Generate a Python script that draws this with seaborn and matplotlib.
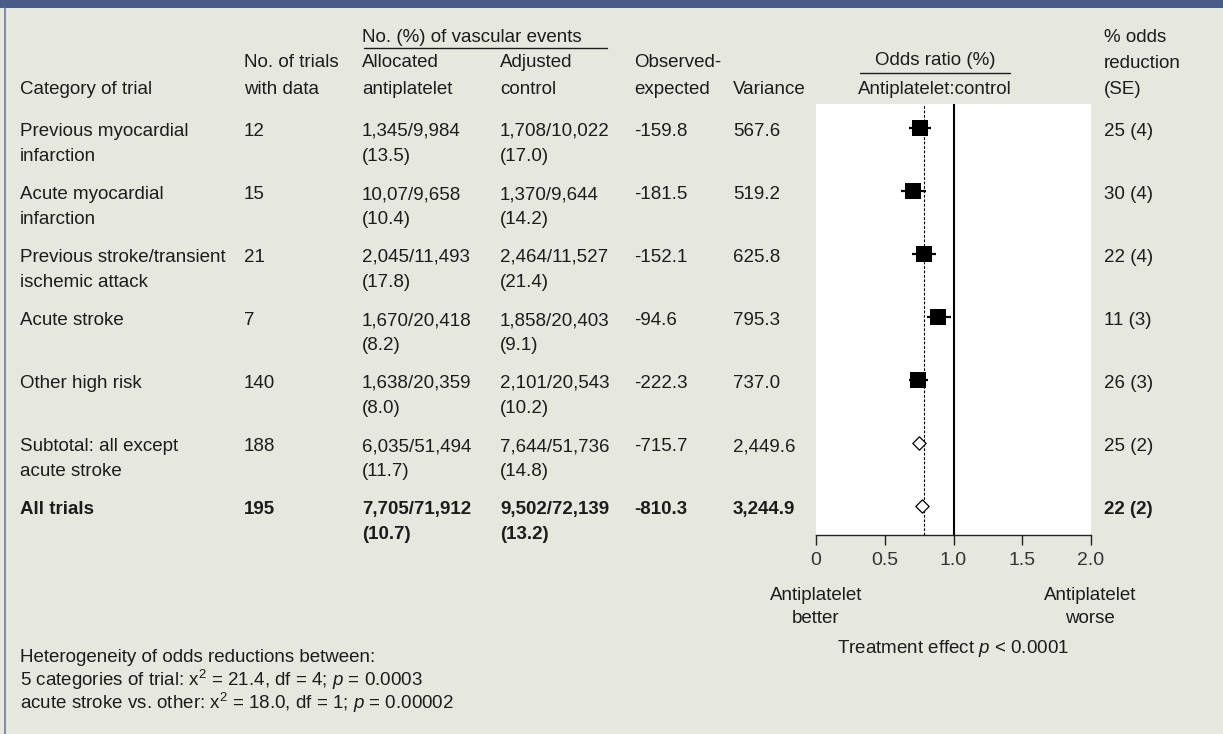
import matplotlib
matplotlib.use("Agg")
import matplotlib.pyplot as plt
import pandas as pd
import seaborn as sns
from matplotlib.patches import Rectangle

# table data
categories = ["Previous myocardial\ninfarction", "Acute myocardial\ninfarction",
              "Previous stroke/transient\nischemic attack", "Acute stroke",
              "Other high risk", "Subtotal: all except\nacute stroke", "All trials"]
n_trials = ["12", "15", "21", "7", "140", "188", "195"]
antiplatelet = ["1,345/9,984\n(13.5)", "10,07/9,658\n(10.4)", "2,045/11,493\n(17.8)",
                "1,670/20,418\n(8.2)", "1,638/20,359\n(8.0)", "6,035/51,494\n(11.7)",
                "7,705/71,912\n(10.7)"]
control = ["1,708/10,022\n(17.0)", "1,370/9,644\n(14.2)", "2,464/11,527\n(21.4)",
           "1,858/20,403\n(9.1)", "2,101/20,543\n(10.2)", "7,644/51,736\n(14.8)",
           "9,502/72,139\n(13.2)"]
obs_exp = ["-159.8", "-181.5", "-152.1", "-94.6", "-222.3", "-715.7", "-810.3"]
variance = ["567.6", "519.2", "625.8", "795.3", "737.0", "2,449.6", "3,244.9"]
odds_red = ["25 (4)", "30 (4)", "22 (4)", "11 (3)", "26 (3)", "25 (2)", "22 (2)"]

# forest plot data (odds ratio, 95% CI)
odds_ratio = [0.757, 0.703, 0.785, 0.885, 0.74, 0.748, 0.77]
ci_low = [0.676, 0.62, 0.70, 0.806, 0.673, None, None]
ci_high = [0.836, 0.80, 0.876, 0.981, 0.818, None, None]
is_summary = [False, False, False, False, False, True, True]
overall_or = 0.785
ticks = [0, 0.5, 1.0, 1.5, 2.0]
tick_labels = ["0", "0.5", "1.0", "1.5", "2.0"]

sns.set_style("white")
plt.rcParams["font.family"] = ["Liberation Sans", "DejaVu Sans"]
plt.rcParams["mathtext.fontset"] = "custom"
plt.rcParams["mathtext.rm"] = "Liberation Sans"
plt.rcParams["mathtext.it"] = "Liberation Sans:italic"

W, H = 1223, 734
bg = "#e6e8e0"
ink = "#1c1c1c"
fs = 13.5

fig = plt.figure(figsize=(W / 100, H / 100), dpi=100)
fig.patch.set_facecolor(bg)

# full-figure axes in pixel units for the table
tab = fig.add_axes([0, 0, 1, 1])
tab.set_xlim(0, W)
tab.set_ylim(H, 0)
tab.axis("off")
tab.add_patch(Rectangle((0, 0), W, 8, color="#4a5b87", lw=0))
tab.plot([5, 5], [8, H], color="#6a7ba3", lw=1.2)


def put(x, y, s, ha="left", bold=False, step=25):
    # y is the middle of the capitals; draw on the baseline so lines stay even
    for k, line in enumerate(s.split("\n")):
        tab.text(x, y + 7 + k * step, line, ha=ha, va="baseline", fontsize=fs,
                 color=ink, fontweight="bold" if bold else "normal")


# header
put(362, 35, "No. (%) of vascular events")
tab.plot([364, 607], [48, 48], color=ink, lw=1)
put(20, 87, "Category of trial")
put(244, 60, "No. of trials\nwith data", step=27)
put(362, 60, "Allocated\nantiplatelet", step=27)
put(500, 60, "Adjusted\ncontrol", step=27)
put(634, 60, "Observed-\nexpected", step=27)
put(733, 87, "Variance")
put(935, 58, "Odds ratio (%)", ha="center")
tab.plot([860, 1010], [73, 73], color=ink, lw=1)
put(935, 87, "Antiplatelet:control", ha="center")
put(1104, 35, "% odds\nreduction\n(SE)", step=26)

# rows
cols = [(20, categories), (244, n_trials), (362, antiplatelet), (500, control),
        (634, obs_exp), (733, variance), (1104, odds_red)]
for i in range(len(categories)):
    y = 129 + 63 * i
    bold = categories[i] == "All trials"
    for x, vals in cols:
        put(x, y, vals[i], bold=bold)

# footer text
put(816, 593, "Antiplatelet\nbetter", ha="center", step=23)
put(1090, 593, "Antiplatelet\nworse", ha="center", step=23)
put(953, 646, r"Treatment effect $\mathit{p}$ < 0.0001", ha="center")
put(20, 655, "Heterogeneity of odds reductions between:")
put(20, 679, r"5 categories of trial: x$^2$ = 21.4, df = 4; $\mathit{p}$ = 0.0003")
put(20, 702, r"acute stroke vs. other: x$^2$ = 18.0, df = 1; $\mathit{p}$ = 0.00002")

# forest plot panel
ax = fig.add_axes([816 / W, 1 - 535 / H, 275 / W, 431 / H])
ax.set_facecolor("white")
df = pd.DataFrame({"row": range(len(categories)), "or": odds_ratio,
                   "lo": ci_low, "hi": ci_high, "summary": is_summary})
boxes = df[~df["summary"]]
diamonds = df[df["summary"]]
ax.hlines(boxes["row"], boxes["lo"], boxes["hi"], color="black", lw=1.6, zorder=2)
ax.axvline(1.0, color="black", lw=1.5, zorder=1)
ax.axvline(overall_or, color="black", lw=0.8, ls=(0, (2.5, 1.5)), zorder=1)
sns.scatterplot(data=boxes, x="or", y="row", marker="s", s=135, color="black",
                linewidth=0, ax=ax, zorder=3)
sns.scatterplot(data=diamonds, x="or", y="row", marker="D", s=46, color="white",
                edgecolor="black", linewidth=0.9, ax=ax, zorder=3)
ax.set_xlim(0, 2)
ax.set_ylim(6.46, -0.381)
ax.set_xlabel("")
ax.set_ylabel("")
ax.set_yticks([])
ax.set_xticks(ticks)
ax.set_xticklabels(tick_labels)
for side in ["top", "right", "left"]:
    ax.spines[side].set_visible(False)
ax.spines["bottom"].set_color("#222222")
ax.spines["bottom"].set_linewidth(1)
ax.tick_params(axis="x", bottom=True, direction="out", length=7, width=1,
               pad=5, labelsize=14, labelcolor="#333333", color="#222222")

fig.savefig("out.png", dpi=100, facecolor=bg)
